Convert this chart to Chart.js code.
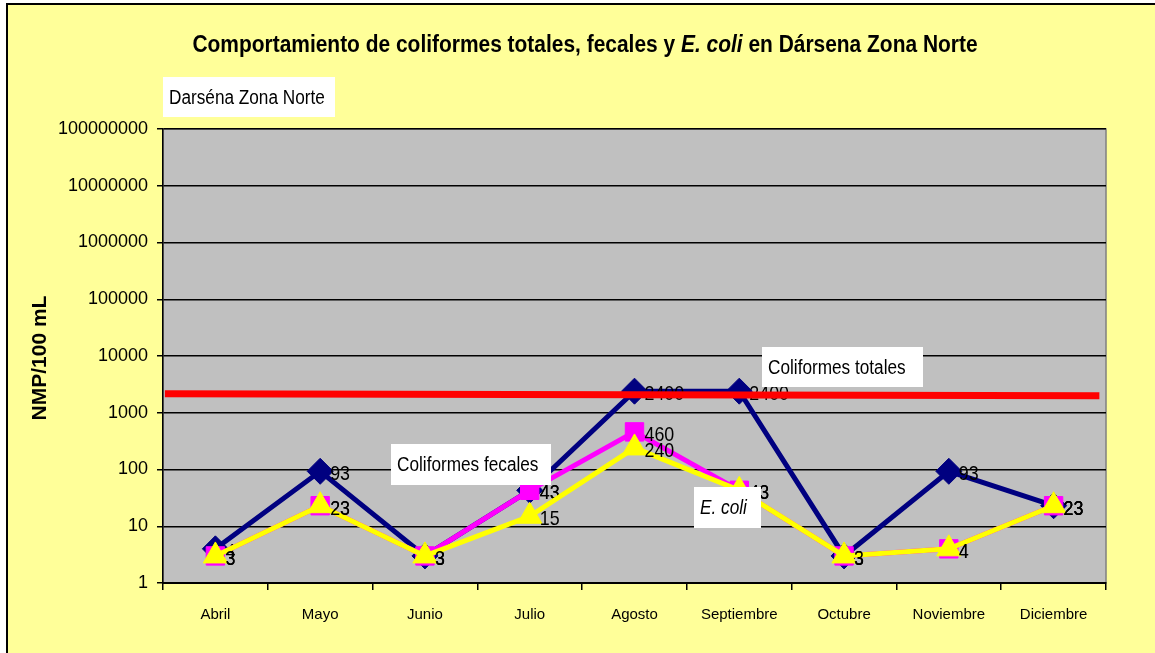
<!DOCTYPE html>
<html>
<head>
<meta charset="utf-8">
<script src="https://cdn.jsdelivr.net/npm/chart.js"></script>
<style>
  html, body { margin: 0; padding: 0; background: #fff; }
  #wrap { width: 1155px; height: 653px; }
</style>
</head>
<body>
<div id="wrap"><canvas id="chart" width="1155" height="653"></canvas></div>
<script>
// chart data
const months = ['Abril', 'Mayo', 'Junio', 'Julio', 'Agosto', 'Septiembre', 'Octubre', 'Noviembre', 'Diciembre'];
const totales = [4, 93, 3, 43, 2400, 2400, 3, 93, 23];
const fecales = [3, 23, 3, 43, 460, 43, 3, 4, 23];
const ecoli = [3, 23, 3, 15, 240, 43, 3, 4, 23];
const limitLine = [2170, 2000];   // red reference line, left end / right end
const yTicks = [1, 10, 100, 1000, 10000, 100000, 1000000, 10000000, 100000000];
const yTickLabels = yTicks.map(v => String(v));

const FONT = "'Liberation Sans', Arial, sans-serif";

// draws text squeezed horizontally (the original uses a narrow rendering)
function narrowText(ctx, text, x, y, font, sx, align) {
    ctx.save();
    ctx.font = font;
    ctx.textAlign = align || 'left';
    ctx.translate(x, y);
    ctx.scale(sx, 1);
    ctx.fillText(text, 0, 0);
    ctx.restore();
}

// background, plot area and frame
const backgroundPlugin = {
    id: 'background',
    beforeDraw(chart) {
        const ctx = chart.ctx;
        const a = chart.chartArea;
        ctx.save();
        ctx.fillStyle = '#ffffff';
        ctx.fillRect(0, 0, chart.width, chart.height);
        ctx.fillStyle = '#FFFF99';
        ctx.fillRect(7, 4, chart.width - 7, chart.height - 4);
        ctx.strokeStyle = '#000';
        ctx.lineWidth = 2;
        ctx.beginPath();
        ctx.moveTo(7, chart.height);
        ctx.lineTo(7, 4);
        ctx.lineTo(chart.width, 4);
        ctx.stroke();
        ctx.fillStyle = '#C0C0C0';
        ctx.fillRect(a.left, a.top, a.right - a.left, a.bottom - a.top);
        ctx.strokeStyle = '#808080';
        ctx.lineWidth = 1.5;
        ctx.strokeRect(a.left, a.top, a.right - a.left, a.bottom - a.top);
        ctx.restore();
    }
};

// value labels to the right of each point, drawn right after its series
const valueLabels = {
    id: 'valueLabels',
    afterDatasetDraw(chart, args) {
        const ds = chart.data.datasets[args.index];
        if (!ds.showValues) return;
        const ctx = chart.ctx;
        ctx.save();
        ctx.fillStyle = '#000';
        ctx.textBaseline = 'middle';
        args.meta.data.forEach((pt, i) => {
            narrowText(ctx, String(ds.data[i]), pt.x + 10, pt.y + 3, '21px ' + FONT, 0.85);
        });
        ctx.restore();
    }
};

// white text boxes
function textBox(ctx, text, x, y, w, h, italic) {
    ctx.fillStyle = '#ffffff';
    ctx.fillRect(x, y, w, h);
    ctx.fillStyle = '#000';
    ctx.textBaseline = 'middle';
    narrowText(ctx, text, x + 6, y + h / 2 + 1, (italic ? 'italic ' : '') + '20px ' + FONT, 0.86);
}

const textPlugin = {
    id: 'texts',
    afterDraw(chart) {
        const ctx = chart.ctx;
        ctx.save();
        // title with the italic species name
        const sx = 0.91;
        const parts = [
            { t: 'Comportamiento de coliformes totales, fecales y ', f: 'bold 23px ' + FONT },
            { t: 'E. coli', f: 'italic bold 23px ' + FONT },
            { t: ' en Dársena Zona Norte', f: 'bold 23px ' + FONT }
        ];
        let total = 0;
        parts.forEach(p => { ctx.font = p.f; p.w = ctx.measureText(p.t).width * sx; total += p.w; });
        let x = 585 - total / 2;
        ctx.fillStyle = '#000';
        ctx.textBaseline = 'middle';
        parts.forEach(p => { narrowText(ctx, p.t, x, 46, p.f, sx); x += p.w; });

        // y axis title
        ctx.save();
        ctx.translate(40, 358);
        ctx.rotate(-Math.PI / 2);
        ctx.font = 'bold 21px ' + FONT;
        ctx.textAlign = 'center';
        ctx.fillText('NMP/100 mL', 0, 0);
        ctx.restore();

        textBox(ctx, 'Darséna Zona Norte', 163, 77, 172, 40, false);
        textBox(ctx, 'Coliformes totales', 762, 347, 161, 40, false);
        ctx.restore();
    },
    afterDatasetsDraw(chart) {
        const ctx = chart.ctx;
        ctx.save();
        textBox(ctx, 'Coliformes fecales', 391, 444, 160, 41, false);
        textBox(ctx, 'E. coli', 694, 487, 67, 41, true);
        ctx.restore();
    }
};

new Chart(document.getElementById('chart'), {
    type: 'line',
    data: {
        labels: months,
        datasets: [
            {
                label: 'Coliformes totales',
                data: totales,
                borderColor: '#000080',
                backgroundColor: '#000080',
                borderWidth: 5,
                pointStyle: 'rectRot',
                pointRadius: 13,
                pointBorderWidth: 1,
                showValues: true,
                order: 3
            },
            {
                label: 'Coliformes fecales',
                data: fecales,
                borderColor: '#FF00FF',
                backgroundColor: '#FF00FF',
                borderWidth: 5,
                pointStyle: 'rect',
                pointRadius: 13,
                pointBorderWidth: 1,
                showValues: true,
                order: 2
            },
            {
                label: 'E. coli',
                data: ecoli,
                borderColor: '#FFFF00',
                backgroundColor: '#FFFF00',
                borderWidth: 5,
                pointStyle: 'triangle',
                pointRadius: 14,
                pointBorderWidth: 1,
                showValues: true,
                order: 1
            },
            {
                label: 'Límite',
                data: [{ x: 0.002, y: limitLine[0] }, { x: 0.993, y: limitLine[1] }],
                xAxisID: 'xLim',
                borderColor: '#FF0000',
                borderWidth: 7,
                pointRadius: 0,
                order: 0
            }
        ]
    },
    plugins: [backgroundPlugin, valueLabels, textPlugin],
    options: {
        responsive: false,
        animation: false,
        events: [],
        layout: { padding: { top: 129, right: 49, left: 0, bottom: 0 } },
        plugins: {
            legend: { display: false },
            title: { display: false },
            tooltip: { enabled: false }
        },
        scales: {
            x: {
                type: 'category',
                offset: true,
                afterFit: s => { s.height = 70; },
                grid: { offset: true, drawOnChartArea: false, drawTicks: true, tickLength: 7, color: '#000', lineWidth: 1.5 },
                border: { color: '#000', width: 2 },
                ticks: { color: '#000', font: { family: FONT, size: 15 }, padding: 16, maxRotation: 0, autoSkip: false }
            },
            xLim: {
                type: 'linear',
                display: false,
                min: 0,
                max: 1
            },
            y: {
                type: 'logarithmic',
                min: 1,
                max: 100000000,
                afterFit: s => { s.width = 163; },
                afterBuildTicks: s => { s.ticks = yTicks.map(v => ({ value: v })); },
                grid: { color: '#000', lineWidth: 1.5, drawTicks: true, tickLength: 6 },
                border: { color: '#000', width: 1.5 },
                ticks: {
                    color: '#000',
                    font: { family: FONT, size: 18 },
                    padding: 9,
                    callback: (v) => {
                        const i = yTicks.indexOf(v);
                        return i >= 0 ? yTickLabels[i] : '';
                    }
                }
            }
        }
    }
});
</script>
</body>
</html>
